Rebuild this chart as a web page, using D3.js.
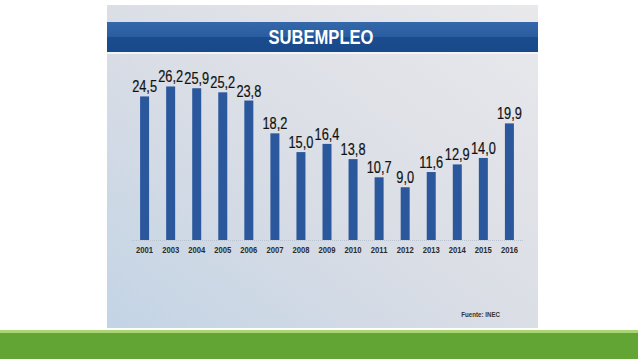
<!DOCTYPE html>
<html><head><meta charset="utf-8">
<script src="https://cdn.jsdelivr.net/npm/d3@7"></script>
<style>body{margin:0;background:#fff;}svg{display:block;}</style>
</head><body>
<script>
const years = ["2001","2003","2004","2005","2006","2007","2008","2009","2010","2011","2012","2013","2014","2015","2016"];
const values = [24.5,26.2,25.9,25.2,23.8,18.2,15.0,16.4,13.8,10.7,9.0,11.6,12.9,14.0,19.9];
const title = "SUBEMPLEO";
const source = "Fuente: INEC";

const W = 638, H = 359;
const FONT = "'Liberation Sans','Arial',sans-serif";
const svg = d3.select("body").append("svg").attr("width", W).attr("height", H);
const defs = svg.append("defs");

const bg = defs.append("linearGradient").attr("id","bg").attr("x1","0").attr("y1","1").attr("x2","1").attr("y2","0");
bg.append("stop").attr("offset","0").attr("stop-color","#c3d4e6");
bg.append("stop").attr("offset","0.45").attr("stop-color","#d9dde5");
bg.append("stop").attr("offset","1").attr("stop-color","#e9e9ec");

const tb = defs.append("linearGradient").attr("id","tb").attr("x1","0").attr("y1","0").attr("x2","0").attr("y2","1");
tb.append("stop").attr("offset","0").attr("stop-color","#3468aa");
tb.append("stop").attr("offset","0.5").attr("stop-color","#2a5d9f");
tb.append("stop").attr("offset","0.5").attr("stop-color","#1b4c8e");
tb.append("stop").attr("offset","1").attr("stop-color","#184a8a");

// helper: horizontally condensed text
function ctext(parent, x, y, str, size, weight, fill, anchor, sx) {
  const gg = parent.append("g").attr("transform", `translate(${x},${y}) scale(${sx},1)`);
  gg.append("text").attr("text-anchor", anchor).attr("font-family", FONT)
    .attr("font-weight", weight).attr("font-size", size).attr("fill", fill).text(str);
  return gg;
}

// panel
svg.append("rect").attr("x",107).attr("y",5).attr("width",431).attr("height",323).attr("fill","url(#bg)");
// title bar
svg.append("rect").attr("x",107).attr("y",22).attr("width",431).attr("height",30).attr("fill","url(#tb)");
svg.append("rect").attr("x",107).attr("y",52).attr("width",431).attr("height",2).attr("fill","#f2f4f7");
ctext(svg, 321, 44, title, 20, "bold", "#fff", "middle", 0.83);

// green band
svg.append("rect").attr("x",0).attr("y",330).attr("width",W).attr("height",3).attr("fill","#a9d672");
svg.append("rect").attr("x",0).attr("y",333).attr("width",W).attr("height",26).attr("fill","#62a535");

const x = d3.scaleBand().domain(years).range([131.5, 522.5]).paddingInner(0.655).paddingOuter(0.33);
const y = d3.scaleLinear().domain([0, 30]).range([240, 240 - 30*5.86]);

const g = svg.append("g");
const xAxis = d3.axisBottom(x).tickSize(0).tickPadding(6).tickFormat(()=>"");
const ax = g.append("g").attr("transform","translate(0,240)").call(xAxis);
ax.select(".domain").attr("stroke","#b9c3cf").attr("stroke-dasharray","1,1").attr("stroke-width",1);
ax.selectAll(".tick").each(function(d){
  ctext(d3.select(this), 0, 13, d, 9, "bold", "#2b2b2b", "middle", 0.85);
});

g.selectAll("rect.bar").data(values).join("rect").attr("class","bar")
  .attr("x",(d,i)=>x(years[i])).attr("width",x.bandwidth())
  .attr("y",d=>y(d)).attr("height",d=>y(0)-y(d)).attr("fill","#2b579d");

values.forEach((d,i)=>{
  ctext(g, x(years[i])+x.bandwidth()/2, y(d)-4, d3.format(".1f")(d).replace(".",","), 16, "normal", "#111", "middle", 0.8)
    .select("text").attr("stroke","#111").attr("stroke-width",0.2);
});

ctext(svg, 500, 317, source, 6.5, "bold", "#333", "end", 0.95);
</script>
</body></html>
